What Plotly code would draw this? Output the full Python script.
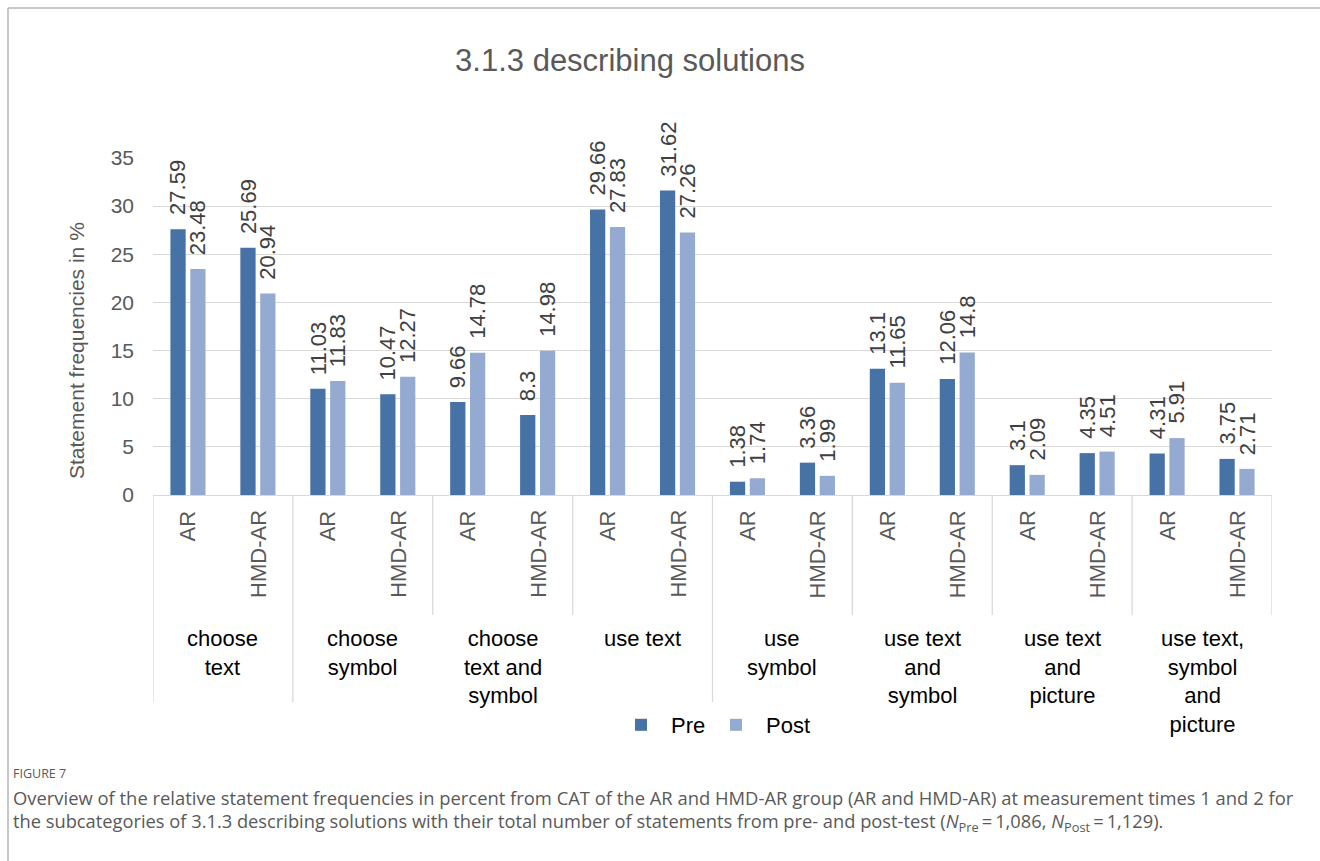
import plotly.graph_objects as go

# ---------------- data ----------------
title_text = "3.1.3 describing solutions"
groups = ["choose<br>text", "choose<br>symbol", "choose<br>text and<br>symbol", "use text",
          "use<br>symbol", "use text<br>and<br>symbol", "use text<br>and<br>picture",
          "use text,<br>symbol<br>and<br>picture"]
subgroups = ["AR", "HMD-AR"]
pre_values = [27.59, 25.69, 11.03, 10.47, 9.66, 8.3, 29.66, 31.62,
              1.38, 3.36, 13.1, 12.06, 3.1, 4.35, 4.31, 3.75]
post_values = [23.48, 20.94, 11.83, 12.27, 14.78, 14.98, 27.83, 27.26,
               1.74, 1.99, 11.65, 14.8, 2.09, 4.51, 5.91, 2.71]
series_names = ["Pre", "Post"]
y_title = "Statement frequencies in %"
y_ticks = [0, 5, 10, 15, 20, 25, 30, 35]

# ---------------- layout helpers ----------------
W, H = 1320, 861
L, R, T, B = 153, 48, 158, 366
PW, PH = W - L - R, H - T - B

def px_x(p):
    return (p - L) / PW

def px_y(p):
    return (H - B - p) / PH

FONT = "Liberation Sans, Arial, sans-serif"
PRE_C = "#4672A6"
POST_C = "#95AAD1"
GRID_C = "#d9d9d9"

n_sub = len(subgroups)
positions = [g * n_sub + s for g in range(len(groups)) for s in range(n_sub)]

BW = 0.218
PRE_OFF, POST_OFF = -0.251, 0.033

fig = go.Figure()
fig.add_trace(go.Bar(x=positions, y=pre_values, name=series_names[0], marker_color=PRE_C,
                     width=BW, offset=PRE_OFF, marker_line_width=0, legend="legend"))
fig.add_trace(go.Bar(x=positions, y=post_values, name=series_names[1], marker_color=POST_C,
                     width=BW, offset=POST_OFF, marker_line_width=0, legend="legend2"))

annotations = []
# value labels
for vals, off in ((pre_values, PRE_OFF), (post_values, POST_OFF)):
    for xp, v in zip(positions, vals):
        annotations.append(dict(x=xp + off + BW / 2, y=v, xref="x", yref="y",
                                text=f"{v:g}", showarrow=False, textangle=-90,
                                xanchor="center", yanchor="bottom", yshift=12,
                                font=dict(family=FONT, size=22, color="#404040")))
# sub-category labels
for xp in positions:
    annotations.append(dict(x=xp, y=px_y(508), xref="x", yref="paper",
                            text=subgroups[xp % n_sub], showarrow=False, textangle=-90,
                            xanchor="center", yanchor="top",
                            font=dict(family=FONT, size=22, color="#595959")))
# group labels
for g, lab in enumerate(groups):
    annotations.append(dict(x=g * n_sub + (n_sub - 1) / 2, y=px_y(624), xref="x", yref="paper",
                            text=lab, showarrow=False, xanchor="center", yanchor="top",
                            align="center",
                            font=dict(family=FONT, size=22, color="#000000")))
# y-axis title
annotations.append(dict(x=px_x(76), y=px_y(351), xref="paper", yref="paper",
                        text=y_title, showarrow=False, textangle=-90,
                        xanchor="center", yanchor="middle",
                        font=dict(family=FONT, size=21, color="#595959")))
# caption
CAP_FONT = "Open Sans, sans-serif"
annotations.append(dict(x=px_x(11), y=px_y(773), xref="paper", yref="paper",
                        text="FIGURE 7", showarrow=False, xanchor="left", yanchor="middle",
                        font=dict(family=CAP_FONT, size=12.5, color="#595959")))
annotations.append(dict(x=px_x(11), y=px_y(797), xref="paper", yref="paper",
                        text="Overview of the relative statement frequencies in percent from CAT of the AR and HMD-AR group (AR and HMD-AR) at measurement times 1 and 2 for",
                        showarrow=False, xanchor="left", yanchor="middle",
                        font=dict(family=CAP_FONT, size=18.4, color="#595959")))
annotations.append(dict(x=px_x(11), y=px_y(822), xref="paper", yref="paper",
                        text="the subcategories of 3.1.3 describing solutions with their total number of statements from pre- and post-test (<i>N</i><sub>Pre</sub>\u2009=\u20091,086, <i>N</i><sub>Post</sub>\u2009=\u20091,129).",
                        showarrow=False, xanchor="left", yanchor="middle",
                        font=dict(family=CAP_FONT, size=18.3, color="#595959")))

shapes = []
# category separators
n_pos = len(positions)
for g in range(len(groups) + 1):
    xb = g * n_sub - 0.5
    shapes.append(dict(type="line", xref="x", yref="paper", x0=xb, x1=xb,
                       y0=0, y1=px_y(615), line=dict(color=GRID_C, width=1.3)))
for g in (0, 1, 4):
    xb = g * n_sub - 0.5
    shapes.append(dict(type="line", xref="x", yref="paper", x0=xb, x1=xb,
                       y0=px_y(615), y1=px_y(702), line=dict(color=GRID_C, width=1.3)))
# frame
shapes.append(dict(type="line", xref="paper", yref="paper", x0=px_x(8), x1=px_x(8),
                   y0=px_y(8), y1=px_y(870), line=dict(color="#b5b5b5", width=1.5)))
shapes.append(dict(type="line", xref="paper", yref="paper", x0=px_x(8), x1=px_x(1330),
                   y0=px_y(8), y1=px_y(8), line=dict(color="#b5b5b5", width=1.5)))

legend_common = dict(orientation="h", yanchor="top", y=px_y(704),
                     font=dict(family=FONT, size=22, color="#000000"),
                     itemwidth=50, bgcolor="rgba(0,0,0,0)")

fig.update_layout(
    width=W, height=H,
    margin=dict(l=L, r=R, t=T, b=B),
    paper_bgcolor="white", plot_bgcolor="white",
    barmode="overlay",
    title=dict(text=title_text, x=630 / W, xanchor="center", y=1 - 60 / H, yanchor="middle",
               font=dict(family=FONT, size=31, color="#595959")),
    xaxis=dict(range=[-0.5, n_pos - 0.5], showticklabels=False, showgrid=False,
               zeroline=False, showline=True, linecolor=GRID_C, linewidth=1.3, ticks=""),
    yaxis=dict(range=[0, 35], tickvals=y_ticks, showgrid=True, gridcolor=GRID_C, gridwidth=1.3,
               zeroline=False, showline=False, ticklabelstandoff=18,
               tickfont=dict(family=FONT, size=21, color="#595959")),
    showlegend=True,
    legend=dict(x=px_x(611), xanchor="left", **legend_common),
    legend2=dict(x=px_x(706), xanchor="left", **legend_common),
    annotations=annotations,
    shapes=shapes,
)

fig.write_html("out.html")
